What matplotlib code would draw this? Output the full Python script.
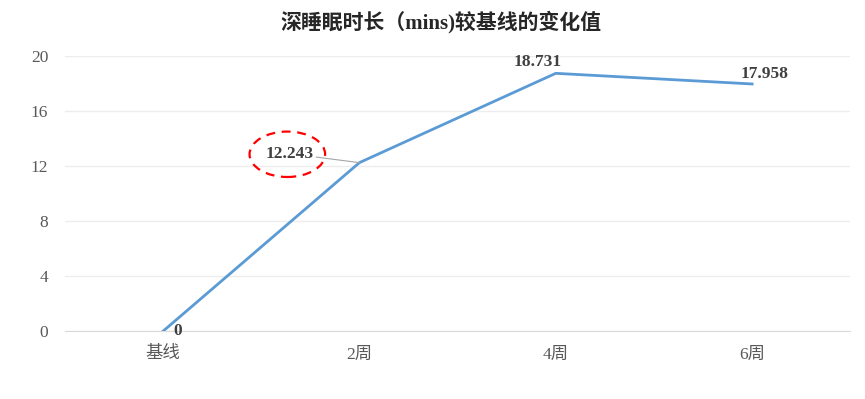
import matplotlib
matplotlib.use("Agg")
import matplotlib.pyplot as plt
from matplotlib.patches import Ellipse

# --- Data ---
categories = ['基线', '2周', '4周', '6周']
values = [0, 12.243, 18.731, 17.958]
value_labels = ['0', '12.243', '18.731', '17.958']
y_ticks = [0, 4, 8, 12, 16, 20]

FONT = ['Liberation Serif', 'Noto Sans CJK SC']
plt.rcParams['font.family'] = FONT

fig = plt.figure(figsize=(8.65, 3.99), dpi=100)
ax = fig.add_axes([0.075, 0.17, 0.908, 0.69])

x = range(len(categories))
ax.plot(x, values, color='#5B9BD5', linewidth=2.0, zorder=3)

ax.set_xlim(-0.5, len(categories) - 0.5)
ax.set_ylim(0, 20)
ax.set_yticks(y_ticks)
ax.set_xticks(list(x))
ax.set_xticklabels(categories)
ax.tick_params(axis='both', length=0, labelsize=12.5, labelcolor='#595959')
ax.tick_params(axis='x', pad=11)
ax.tick_params(axis='y', pad=12)
for s in ['top', 'right', 'left']:
    ax.spines[s].set_visible(False)
ax.spines['bottom'].set_color('#D9D9D9')
ax.grid(axis='y', color='#EDEDED', linewidth=1)
ax.set_axisbelow(True)

# data labels (offsets in pixels)
offsets = [(15, 0), (-70, 9), (-18, 11), (12, 10)]
for i, (v, lab) in enumerate(zip(values, value_labels)):
    kw = dict(textcoords='offset pixels', ha='center', va='center',
              fontsize=12.5, fontweight='bold', color='#404040', zorder=4)
    if i == 1:
        kw['arrowprops'] = dict(arrowstyle='-', color='#A6A6A6', lw=0.8,
                                shrinkA=0, shrinkB=0)
    ax.annotate(lab, xy=(i, v), xytext=offsets[i], **kw)

# red dashed circle around the 2-week label
ax.add_patch(Ellipse((0.633, 12.85), 0.385, 3.3, fill=False,
                     edgecolor='#FF0000', linestyle=(0, (4, 3)), linewidth=1.6,
                     zorder=5, clip_on=False))

fig.text(0.51, 0.945, '深睡眠时长（mins)较基线的变化值', ha='center', va='center',
         fontsize=15, fontweight='bold', color='#262626')

fig.savefig('out.png', dpi=100)
